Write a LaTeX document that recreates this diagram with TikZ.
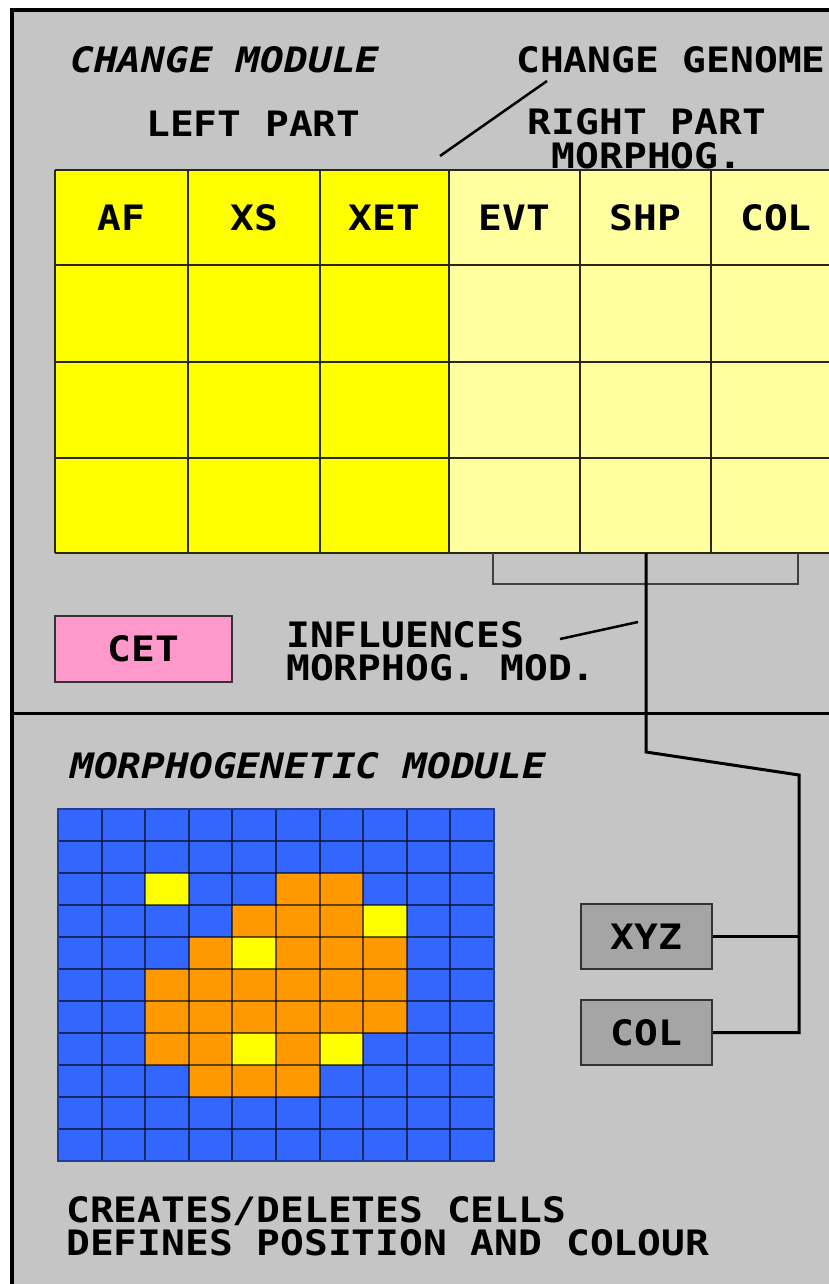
\documentclass[tikz,border=0pt]{standalone}
\usepackage{fontspec}
\newfontfamily\pix[FakeStretch=1.13]{DejaVu Sans Mono}
\definecolor{panel}{RGB}{197,197,197}
\definecolor{yel}{RGB}{255,255,0}
\definecolor{lyel}{RGB}{255,255,160}
\definecolor{pinkc}{RGB}{255,153,204}
\definecolor{bluec}{RGB}{51,102,255}
\definecolor{orangec}{RGB}{255,153,0}
\definecolor{boxgray}{RGB}{165,165,165}
\definecolor{tline}{RGB}{40,40,20}
\tikzset{
  lbl/.style={inner sep=0pt, anchor=base west, align=left, text=black,
    font=\pix\bfseries\fontsize{35}{33}\selectfont},
  ilbl/.style={lbl, font=\pix\bfseries\itshape\fontsize{35}{33}\selectfont},
  hdr/.style={inner sep=0pt, anchor=center, text=black,
    font=\pix\bfseries\fontsize{35}{33}\selectfont},
  boxnode/.style={draw=black!80, line width=2pt, inner sep=0pt, anchor=center,
    font=\pix\bfseries\fontsize{35}{33}\selectfont},
  conn/.style={line width=3pt, black},
  thin/.style={line width=2pt, black!75},
  pointer/.style={line width=2.5pt, black},
}
\begin{document}
\begin{tikzpicture}[x=1pt, y=-1pt]
\useasboundingbox (0,0) rectangle (829,1284);
\clip (0,0) rectangle (829,1284);
\fill[white] (0,0) rectangle (829,1284);
% panel
\fill[panel] (12,10) rectangle (860,1300);
\draw[line width=4pt, black] (12,1300) -- (12,10) -- (860,10);
\draw[line width=3pt, black] (12,713) -- (860,713);

% ---- change module table ----
\fill[yel]  (55,170) rectangle (449,553);
\fill[lyel] (449,170) rectangle (860,553);
\foreach \x in {55,188,320,449,580,711}
  \draw[line width=2pt, tline] (\x,170) -- (\x,553);
\foreach \y in {170,265,362,458,553}
  \draw[line width=2pt, tline] (55,\y) -- (860,\y);
\node[hdr] (af)  at (121.5,217.5) {AF};
\node[hdr] (xs)  at (254,217.5) {XS};
\node[hdr] (xet) at (384.5,217.5) {XET};
\node[hdr] (evt) at (514.5,217.5) {EVT};
\node[hdr] (shp) at (645.5,217.5) {SHP};
\node[hdr] (col) at (776,217.5) {COL};

% labels
\node[ilbl] (cm) at (70,73) {CHANGE MODULE};
\node[lbl] (cg) at (516,73) {CHANGE GENOME};
\node[lbl] (lp) at (146,137) {LEFT PART};
\node[hdr, align=center, anchor=base] (rp) at (647,168) {RIGHT PART\\MORPHOG.};
\coordinate (cgp1) at (547,81);
\coordinate (cgp2) at (440,156);
\draw[pointer] (cgp1) -- (cgp2);

% bracket and connector
\coordinate (bl) at (493,553);
\coordinate (br) at (798,553);
\draw[thin] (bl) -- (493,584) -- (798,584) -- (br);
\coordinate (tb) at (646,553);
\coordinate (k1) at (646,752);
\coordinate (k2) at (799,775);

% CET
\node[boxnode, fill=pinkc, minimum width=177pt, minimum height=66pt] (cet) at (143.5,649) {CET};
\node[lbl] (inf) at (286,680) {INFLUENCES\\MORPHOG. MOD.};
\coordinate (ip1) at (560,639);
\coordinate (ip2) at (638,622);
\draw[pointer] (ip1) -- (ip2);

% ---- morphogenetic module ----
\node[ilbl] (mm) at (70,778) {MORPHOGENETIC MODULE};
\fill[bluec] (58,809) rectangle (494,1161);
\foreach \c/\r in {5/2,6/2,4/3,5/3,6/3,3/4,5/4,6/4,7/4,
  2/5,3/5,4/5,5/5,6/5,7/5,2/6,3/6,4/6,5/6,6/6,7/6,2/7,3/7,5/7,3/8,4/8,5/8}
  \fill[orangec] ({58+43.6*\c},{809+32*\r}) rectangle ++(43.6,32);
\foreach \c/\r in {2/2,7/3,4/4,4/7,6/7}
  \fill[yel] ({58+43.6*\c},{809+32*\r}) rectangle ++(43.6,32);
\foreach \i in {1,...,9}
  \draw[line width=2pt, black, opacity=0.6] ({58+43.6*\i},809) -- ({58+43.6*\i},1161);
\foreach \j in {1,...,10}
  \draw[line width=2pt, black, opacity=0.6] (58,{809+32*\j}) -- (494,{809+32*\j});
\draw[line width=2pt, black!40!bluec] (58,809) rectangle (494,1161);

\node[boxnode, fill=boxgray, minimum width=131pt, minimum height=65pt] (xyz) at (646.5,936.5) {XYZ};
\node[boxnode, fill=boxgray, minimum width=131pt, minimum height=65pt] (colb) at (646.5,1032.5) {COL};
\coordinate (kx) at (799,936.5);
\coordinate (kc) at (799,1032.5);
\draw[conn, line join=miter] (tb) -- (k1) -- (k2) -- (kc) -- (colb.east);
\draw[line width=2.5pt, black] (xyz.east) -- (kx);

\node[lbl] (cr) at (66,1255) {CREATES/DELETES CELLS\\DEFINES POSITION AND COLOUR};
\end{tikzpicture}
\end{document}
